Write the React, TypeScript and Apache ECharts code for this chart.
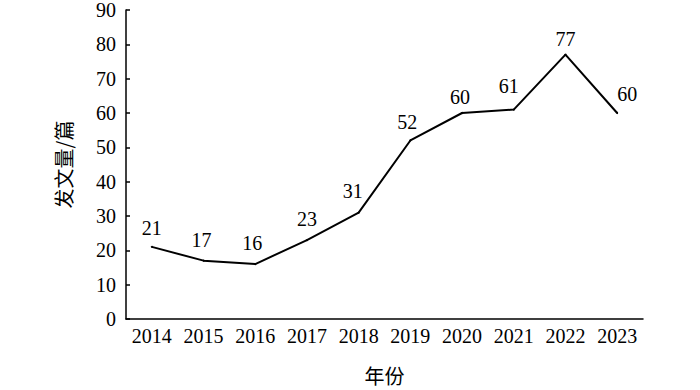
import React, { useEffect, useRef } from "react";
import * as echarts from "echarts";

const years = ["2014", "2015", "2016", "2017", "2018", "2019", "2020", "2021", "2022", "2023"];
const counts = [21, 17, 16, 23, 31, 52, 60, 61, 77, 60];
const yTicks = { min: 0, max: 90, interval: 10 };
// label nudges (style only), [dx, dy]
const labelOffsets: [number, number][] = [
  [0, 0], [-2, -2], [-3, -2], [0, -2], [-6, -3], [-3, 1], [-2, 3], [-5, -5], [0, 3], [10, 0],
];

const SERIF = "'Liberation Serif', 'Times New Roman', serif";
const CJK = "'Noto Sans CJK SC', sans-serif";

export default function App() {
  const ref = useRef<HTMLDivElement>(null);
  useEffect(() => {
    if (!ref.current) return;
    const chart = echarts.init(ref.current, null, { renderer: "svg" });
    chart.setOption({
      animation: false,
      backgroundColor: "#ffffff",
      grid: { left: 126, right: 57, top: 7.5, bottom: 68, containLabel: false },
      xAxis: {
        type: "category",
        data: years,
        boundaryGap: true,
        name: "年份",
        nameLocation: "middle",
        nameGap: 46,
        nameTextStyle: { fontFamily: CJK, fontSize: 20, color: "#000" },
        axisLine: { lineStyle: { color: "#000", width: 1.5 } },
        axisTick: { inside: true, length: 4, alignWithLabel: false, lineStyle: { color: "#000", width: 1.5 } },
        axisLabel: { fontFamily: SERIF, fontSize: 20, color: "#000", margin: 7, interval: 0 },
        splitLine: { show: false },
      },
      yAxis: {
        type: "value",
        min: yTicks.min,
        max: yTicks.max,
        interval: yTicks.interval,
        name: "发文量/篇",
        nameLocation: "middle",
        nameGap: 53,
        nameTextStyle: { fontFamily: CJK, fontSize: 20, color: "#000" },
        axisLine: { show: true, lineStyle: { color: "#000", width: 1.5 } },
        axisTick: { show: true, inside: true, length: 4, lineStyle: { color: "#000", width: 1.5 } },
        axisLabel: { fontFamily: SERIF, fontSize: 20, color: "#000", margin: 10 },
        splitLine: { show: false },
      },
      series: [
        {
          type: "line",
          data: counts.map((v, i) => ({
            value: v,
            label: { show: true, offset: labelOffsets[i] },
          })),
          showSymbol: true,
          symbol: "circle",
          symbolSize: 2,
          itemStyle: { color: "#000", borderWidth: 0 },
          lineStyle: { color: "#000", width: 2 },
          label: {
            show: true,
            position: "top",
            distance: 8,
            fontFamily: SERIF,
            fontSize: 20,
            color: "#000",
          },
        },
      ],
    });
    return () => chart.dispose();
  }, []);
  return <div ref={ref} style={{ width: 700, height: 390, position: "absolute", left: 0, top: 0 }} />;
}
